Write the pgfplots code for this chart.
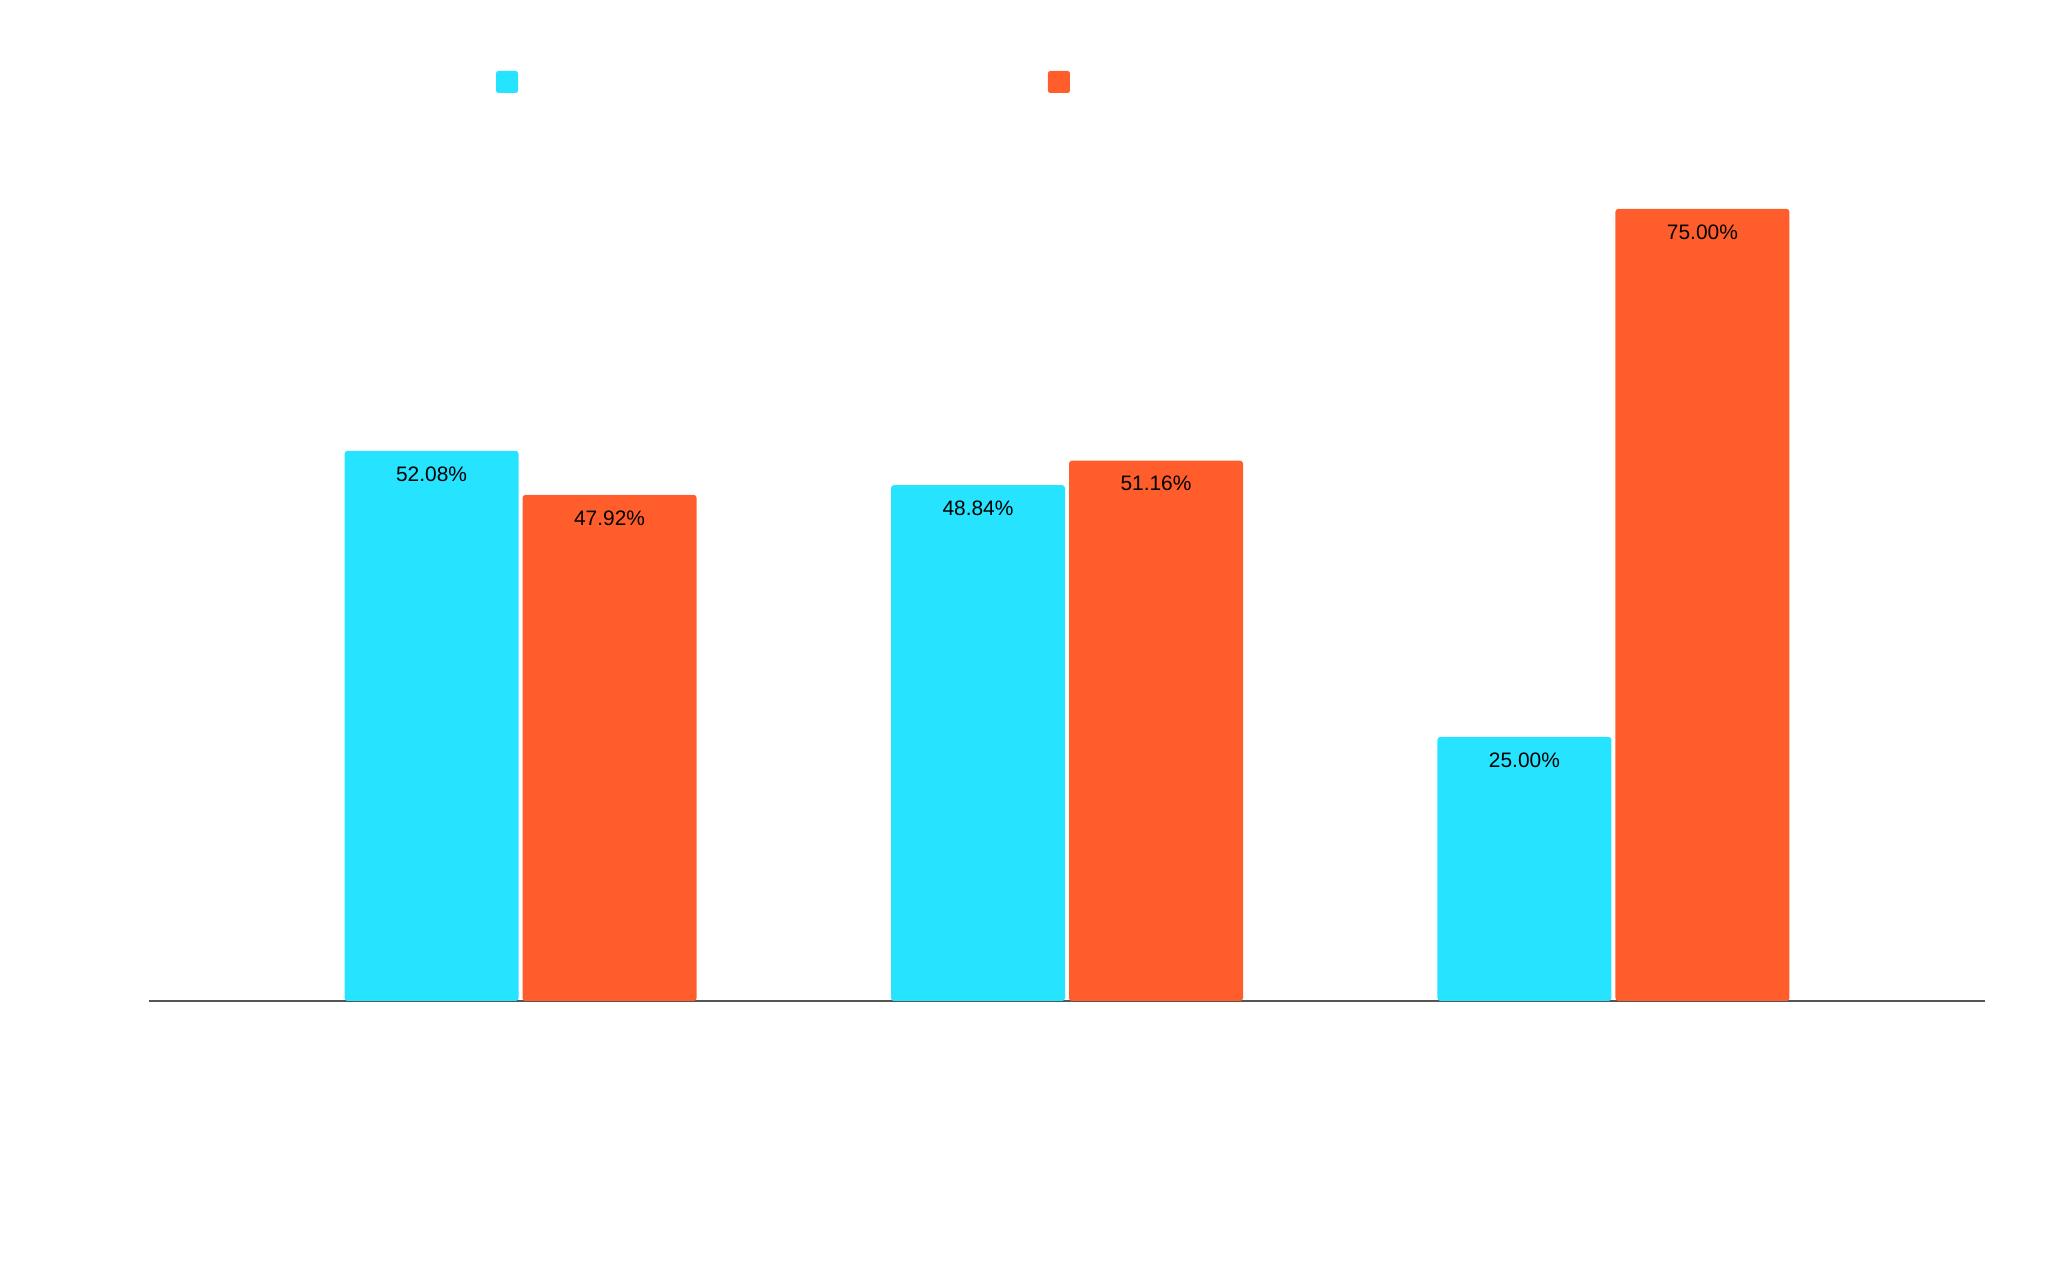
\documentclass[border=0pt]{standalone}
\usepackage{pgfplots}
\pgfplotsset{compat=1.18}
\usepackage{fontspec}
\setmainfont{Liberation Sans}
\definecolor{cyanbar}{HTML}{26E4FF}
\definecolor{orangebar}{HTML}{FF5E2C}
\definecolor{axisgray}{HTML}{555555}
\newcommand{\labfont}{\fontsize{10.5}{12}\selectfont}
\begin{document}
\begin{tikzpicture}
\useasboundingbox (0,0) rectangle (1024bp,633bp);
\begin{axis}[
  at={(74.5bp,132.5bp)}, anchor=south west,
  scale only axis,
  width=918bp, height=422.5bp,
  xmin=-0.68, xmax=2.68,
  ymin=0, ymax=80,
  axis x line=bottom,
  axis y line=none,
  axis line style={draw=axisgray, line width=1bp},
  x axis line style={-},
  xtick=\empty, ytick=\empty,
  ybar, bar width=87bp,
  /pgf/number format/fixed,
  /pgf/number format/fixed zerofill,
  /pgf/number format/precision=2,
  /pgf/number format/assume math mode=true,
  legend columns=2,
  legend style={draw=none, fill=none, inner sep=0pt, outer sep=0pt,
    at={(0.189,1.0876)}, anchor=west},
  legend image code/.code={\fill[#1, rounded corners=1.2bp] (0bp,-5.5bp) rectangle (11bp,5.5bp);},
  point meta=y,
  nodes near coords={\pgfmathprintnumber{\pgfplotspointmeta}\%},
  every node near coord/.append style={anchor=center, yshift=-11.5bp, text=black, font=\labfont},
]
\addplot[fill=cyanbar, draw=none, rounded corners=1.5bp, bar shift=-44.5bp]
  coordinates {(0,52.08) (1,48.84) (2,25.00)};
\addlegendentry{\hspace*{261bp}}
\addplot[fill=orangebar, draw=none, rounded corners=1.5bp, bar shift=44.5bp]
  coordinates {(0,47.92) (1,51.16) (2,75.00)};
\addlegendentry{\mbox{}}
\end{axis}
\end{tikzpicture}
\end{document}
